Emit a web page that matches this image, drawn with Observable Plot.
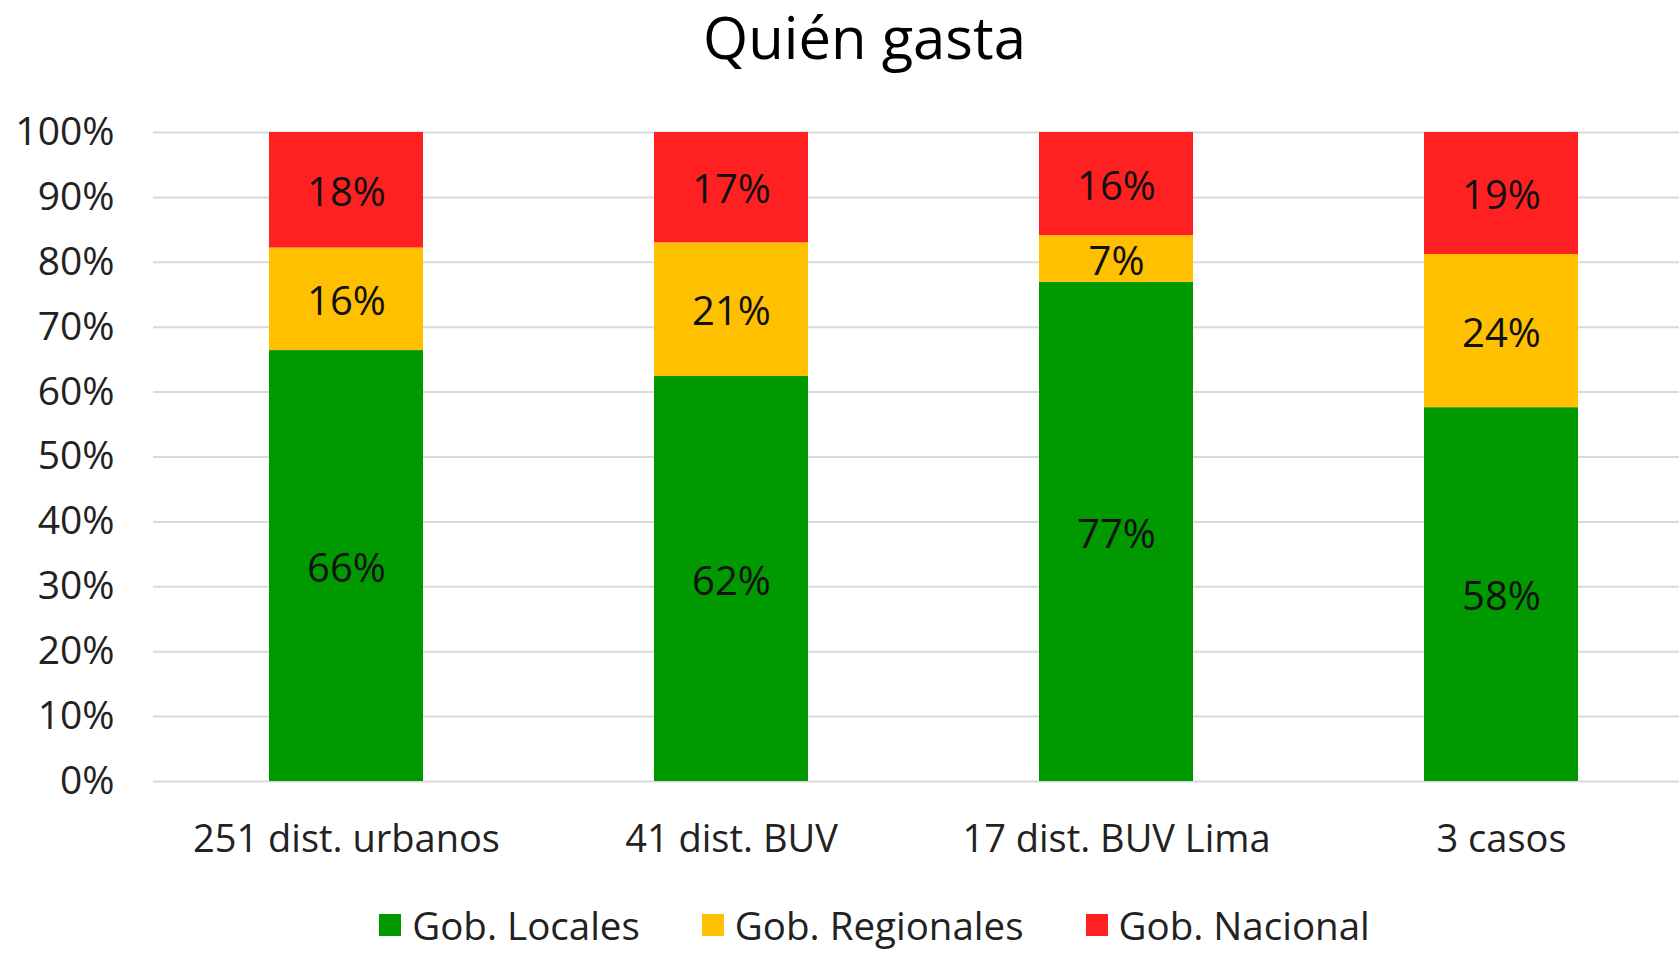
<!DOCTYPE html>
<html>
<head>
<meta charset="utf-8">
<script src="https://cdn.jsdelivr.net/npm/d3@7"></script>
<script src="https://cdn.jsdelivr.net/npm/@observablehq/plot@0.6"></script>
<style>
  html, body { margin: 0; padding: 0; background: #fff; width: 1679px; height: 956px; overflow: hidden; }
  body { font-family: "Open Sans", sans-serif; color: #000; }
  #title { height: 90px; text-align: center; font-size: 58px; line-height: 74px; color: #000; padding-left: 50px; box-sizing: border-box; }
  #chart svg { display: block; }
  #legend { height: 76px; display: flex; justify-content: center; align-items: center; font-size: 38.5px; line-height: 46px; color: #222; padding-top: 14px; padding-left: 70px; box-sizing: border-box; }
  .item { display: flex; align-items: center; margin: 0 31px; }
  .sw { width: 22px; height: 22px; margin-right: 11px; }
</style>
</head>
<body>
<div id="title">Quién gasta</div>
<div id="chart"></div>
<div id="legend"></div>
<script>
const categories = ["251 dist. urbanos", "41 dist. BUV", "17 dist. BUV Lima", "3 casos"];
const series = ["Gob. Locales", "Gob. Regionales", "Gob. Nacional"];
const colors = ["#009900", "#ffc000", "#ff2121"];
const locales = [66.4, 62.4, 76.9, 57.6];
const regionales = [15.8, 20.6, 7.2, 23.6];
const nacional = [17.8, 17.0, 15.9, 18.8];
const yTicks = [0, 10, 20, 30, 40, 50, 60, 70, 80, 90, 100];

const valuesBySeries = [locales, regionales, nacional];
const data = [];
categories.forEach((c, i) => {
  series.forEach((s, j) => {
    data.push({category: c, series: s, value: valuesBySeries[j][i]});
  });
});

const plot = Plot.plot({
  width: 1679,
  height: 790,
  marginLeft: 153,
  marginRight: 0,
  marginTop: 42,
  marginBottom: 99,
  style: {fontFamily: "Open Sans, sans-serif", background: "#fff"},
  x: {domain: categories, range: [153, 1693], paddingInner: 0.6, paddingOuter: 0.3, label: null},
  y: {domain: [0, 100], label: null},
  color: {domain: series, range: colors},
  marks: [
    Plot.gridY(yTicks, {stroke: "#d9d9d9", strokeOpacity: 1, strokeWidth: 2}),
    Plot.barY(data, {x: "category", y: "value", fill: "series", order: series}),
    Plot.text(data, Plot.stackY({x: "category", y: "value", z: "series", order: series,
      text: d => Math.round(d.value) + "%", fill: "#111", fontSize: 40, dy: 3})),
    Plot.axisY(yTicks, {tickSize: 0, tickPadding: 39, tickFormat: d => d + "%", fontSize: 39, fill: "#222"}),
    Plot.axisX({tickSize: 0, tickPadding: 44, fontSize: 38, fill: "#222"})
  ]
});
document.getElementById("chart").appendChild(plot);

const legend = document.getElementById("legend");
series.forEach((s, j) => {
  const item = document.createElement("div");
  item.className = "item";
  const sw = document.createElement("div");
  sw.className = "sw";
  sw.style.background = colors[j];
  const t = document.createElement("span");
  t.textContent = s;
  item.appendChild(sw);
  item.appendChild(t);
  legend.appendChild(item);
});
</script>
</body>
</html>
